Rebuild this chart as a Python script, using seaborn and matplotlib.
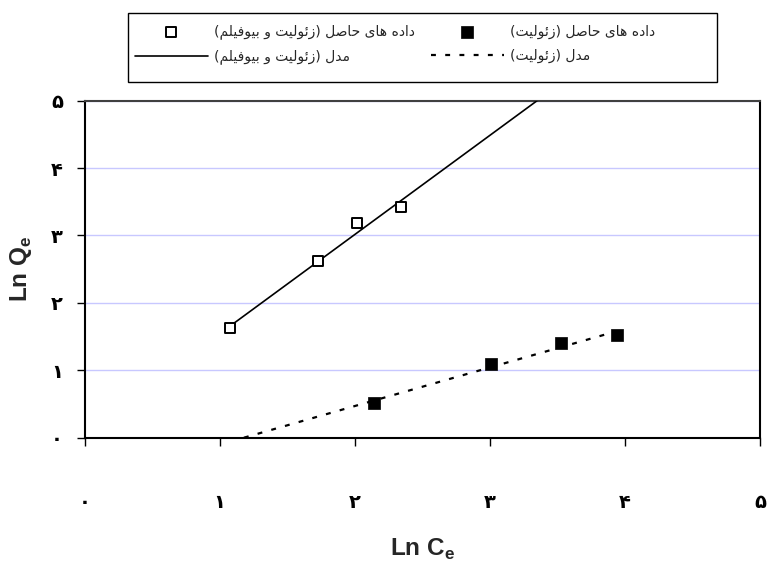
import matplotlib
matplotlib.use("Agg")
import matplotlib.pyplot as plt
from matplotlib.patches import Rectangle
import seaborn as sns

# ---------------- data ----------------
bio_x = [1.08, 1.73, 2.02, 2.34]
bio_y = [1.63, 2.62, 3.19, 3.42]
zeo_x = [2.14, 3.01, 3.53, 3.94]
zeo_y = [0.51, 1.10, 1.40, 1.52]
bio_model_x = [1.08, 3.35]
bio_model_y = [1.66, 5.00]
zeo_model_x = [1.18, 3.94]
zeo_model_y = [0.00, 1.58]
tick_vals = [0, 1, 2, 3, 4, 5]
tick_labels = ['۰', '۱', '۲', '۳', '۴', '۵']
lbl_bio_data = 'داده های حاصل (زئولیت و بیوفیلم)'
lbl_bio_model = 'مدل (زئولیت و بیوفیلم)'
lbl_zeo_data = 'داده های حاصل (زئولیت)'
lbl_zeo_model = 'مدل (زئولیت)'

# ------------- simple Persian shaping (matplotlib has no complex text layout) -------------
FORMS = {
    'ا': ('\uFE8D', '\uFE8E', None, None),
    'ب': ('\uFE8F', '\uFE90', '\uFE91', '\uFE92'),
    'ت': ('\uFE95', '\uFE96', '\uFE97', '\uFE98'),
    'ح': ('\uFEA1', '\uFEA2', '\uFEA3', '\uFEA4'),
    'د': ('\uFEA9', '\uFEAA', None, None),
    'ز': ('\uFEAF', '\uFEB0', None, None),
    'ص': ('\uFEB9', '\uFEBA', '\uFEBB', '\uFEBC'),
    'ف': ('\uFED1', '\uFED2', '\uFED3', '\uFED4'),
    'ل': ('\uFEDD', '\uFEDE', '\uFEDF', '\uFEE0'),
    'م': ('\uFEE1', '\uFEE2', '\uFEE3', '\uFEE4'),
    'ه': ('\uFEE9', '\uFEEA', '\uFEEB', '\uFEEC'),
    'و': ('\uFEED', '\uFEEE', None, None),
    'ئ': ('\uFE89', '\uFE8A', '\uFE8B', '\uFE8C'),
    'ی': ('\uFEEF', '\uFEF0', '\uFEF3', '\uFEF4'),
}


def fa(text):
    out = []
    n = len(text)
    for i, ch in enumerate(text):
        if ch not in FORMS:
            out.append(ch)
            continue
        prev = text[i - 1] if i > 0 else ''
        nxt = text[i + 1] if i < n - 1 else ''
        pj = prev in FORMS and FORMS[prev][2] is not None
        nj = nxt in FORMS and FORMS[ch][2] is not None
        iso, fin, ini, med = FORMS[ch]
        if pj and nj:
            out.append(med)
        elif pj:
            out.append(fin)
        elif nj:
            out.append(ini)
        else:
            out.append(iso)
    vis = ''.join(reversed(out))
    return vis.translate(str.maketrans('()', ')('))


# ---------------- style ----------------
sns.set_style('ticks')
plt.rcParams['font.family'] = ['DejaVu Sans']
plt.rcParams['mathtext.fontset'] = 'custom'
plt.rcParams['mathtext.bf'] = 'Liberation Sans:bold'
plt.rcParams['mathtext.rm'] = 'Liberation Sans:bold'

fig = plt.figure(figsize=(7.67, 5.61), dpi=100)
ax = fig.add_axes([84.5 / 767, 1 - 437.7 / 561, (760 - 84.5) / 767, (437.7 - 100.7) / 561])

# model lines
sns.lineplot(x=bio_model_x, y=bio_model_y, ax=ax, color='black', lw=1.2,
             estimator=None, sort=False, label=fa(lbl_bio_model), zorder=3)
sns.lineplot(x=zeo_model_x, y=zeo_model_y, ax=ax, color='black', lw=1.6,
             linestyle=(0, (2.2, 4.2)), estimator=None, sort=False,
             label=fa(lbl_zeo_model), zorder=3)
# data points
sns.scatterplot(x=bio_x, y=bio_y, ax=ax, marker='s', s=50, facecolor='white',
                edgecolor='black', linewidth=1.4, label=fa(lbl_bio_data), zorder=4)
sns.scatterplot(x=zeo_x, y=zeo_y, ax=ax, marker='s', s=70, color='black',
                edgecolor='black', linewidth=0.5, label=fa(lbl_zeo_data), zorder=4)

ax.set_xlim(0, 5)
ax.set_ylim(0, 5)
ax.set_xticks(tick_vals)
ax.set_yticks(tick_vals)
ax.set_xticklabels(tick_labels, fontsize=14, fontweight='bold')
ax.set_yticklabels(tick_labels, fontsize=14, fontweight='bold')
ax.tick_params(axis='x', direction='out', length=5.5, width=1, pad=34, colors='black')
ax.tick_params(axis='y', direction='out', length=5.5, width=1, pad=10, colors='black')

ax.yaxis.grid(True, color='#c8c8ff', lw=1)
ax.xaxis.grid(False)
ax.set_axisbelow(True)

for side in ['left', 'bottom', 'top', 'right']:
    ax.spines[side].set_visible(True)
    ax.spines[side].set_color('black')
    ax.spines[side].set_linewidth(1.5)
ax.spines['top'].set_color('#404040')

ax.set_xlabel(r'Ln C$_\mathbf{e}$', fontsize=17.5, fontweight='bold', family='Liberation Sans')
ax.set_ylabel(r'Ln Q$_\mathbf{e}$', fontsize=17.5, fontweight='bold', family='Liberation Sans')
ax.xaxis.set_label_coords(0.5, (437.7 - 549) / 337)
ax.xaxis.label.set_verticalalignment('center')
ax.yaxis.set_label_coords((21 - 84.5) / 675.5, 0.5)
ax.yaxis.label.set_verticalalignment('center')

# legend (column-major: biofilm column, then zeolite column)
handles, labels = ax.get_legend_handles_labels()
hmap = dict(zip(labels, handles))
order = [fa(lbl_bio_data), fa(lbl_bio_model), fa(lbl_zeo_data), fa(lbl_zeo_model)]
leg = ax.legend([hmap[k] for k in order], order, ncol=2, frameon=False,
                loc='upper left', bbox_to_anchor=(135 / 767, 1 - 24.5 / 561),
                bbox_transform=fig.transFigure, borderpad=0, borderaxespad=0,
                handlelength=5.25, handletextpad=0.45, columnspacing=1.15,
                labelspacing=0.74, fontsize=10, scatterpoints=1)
fig.patches.append(Rectangle((128 / 767, 1 - 82 / 561), (717 - 128) / 767, (82 - 13) / 561,
                             transform=fig.transFigure, fill=False, ec='black', lw=1))

fig.savefig('out.png', dpi=100)
